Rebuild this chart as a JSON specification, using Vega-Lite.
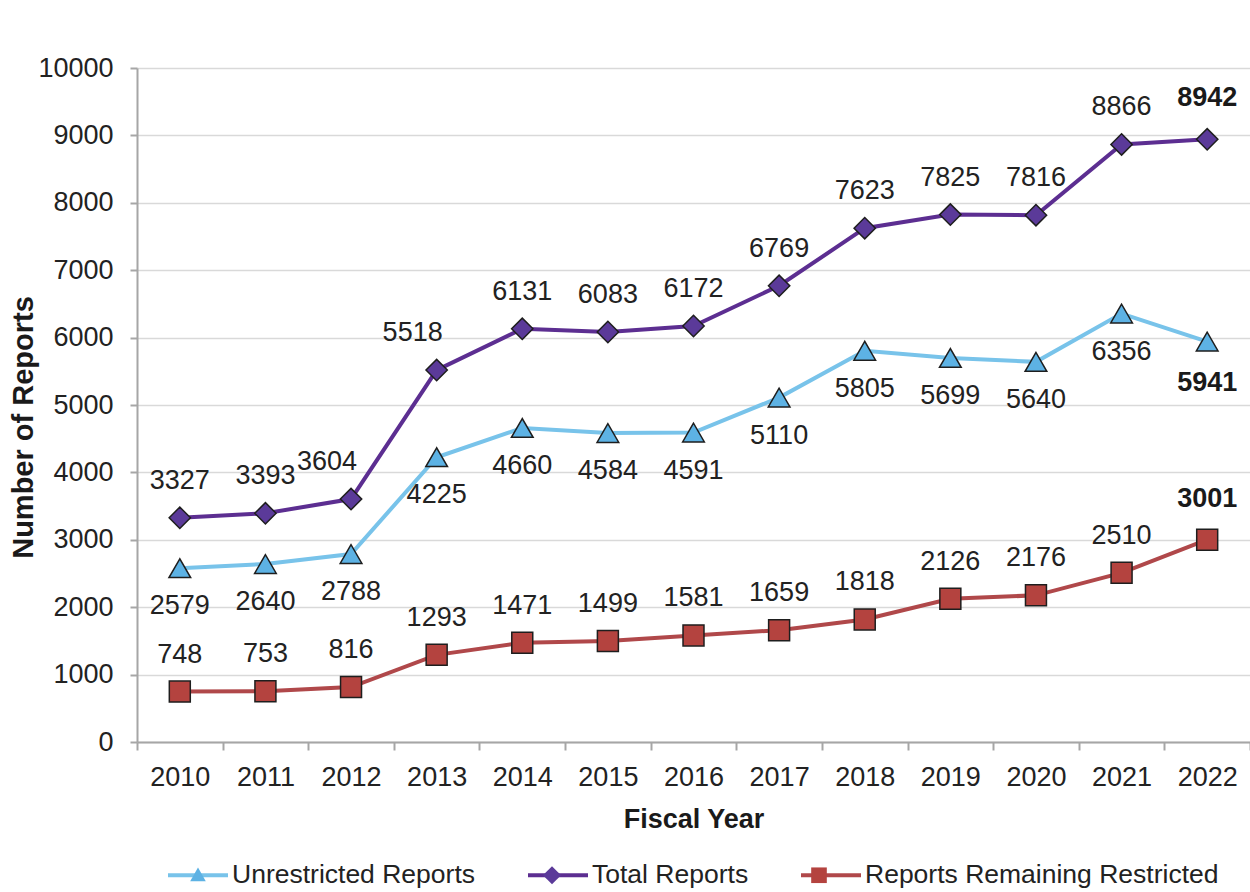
{
  "$schema": "https://vega.github.io/schema/vega-lite/v6.json",
  "width": 1113,
  "height": 674,
  "autosize": {"type": "none"},
  "padding": {"left": 137, "top": 68, "right": 0, "bottom": 150},
  "background": "white",
  "config": {
    "font": "Liberation Sans",
    "view": {"stroke": null},
    "axis": {"labelFont": "Liberation Sans", "titleFont": "Liberation Sans", "labelFontSize": 27, "titleFontSize": 27, "labelColor": "#222222", "titleColor": "#1a1a1a", "titleFontWeight": "bold", "domainColor": "#a6a6a6", "domainWidth": 2, "tickColor": "#a6a6a6", "tickWidth": 2}
  },
  "data": {"values": [
    {"year": "2010", "series": "Unrestricted Reports", "value": 2579},
    {"year": "2011", "series": "Unrestricted Reports", "value": 2640},
    {"year": "2012", "series": "Unrestricted Reports", "value": 2788},
    {"year": "2013", "series": "Unrestricted Reports", "value": 4225},
    {"year": "2014", "series": "Unrestricted Reports", "value": 4660},
    {"year": "2015", "series": "Unrestricted Reports", "value": 4584},
    {"year": "2016", "series": "Unrestricted Reports", "value": 4591},
    {"year": "2017", "series": "Unrestricted Reports", "value": 5110},
    {"year": "2018", "series": "Unrestricted Reports", "value": 5805},
    {"year": "2019", "series": "Unrestricted Reports", "value": 5699},
    {"year": "2020", "series": "Unrestricted Reports", "value": 5640},
    {"year": "2021", "series": "Unrestricted Reports", "value": 6356},
    {"year": "2022", "series": "Unrestricted Reports", "value": 5941},
    {"year": "2010", "series": "Total Reports", "value": 3327},
    {"year": "2011", "series": "Total Reports", "value": 3393},
    {"year": "2012", "series": "Total Reports", "value": 3604},
    {"year": "2013", "series": "Total Reports", "value": 5518},
    {"year": "2014", "series": "Total Reports", "value": 6131},
    {"year": "2015", "series": "Total Reports", "value": 6083},
    {"year": "2016", "series": "Total Reports", "value": 6172},
    {"year": "2017", "series": "Total Reports", "value": 6769},
    {"year": "2018", "series": "Total Reports", "value": 7623},
    {"year": "2019", "series": "Total Reports", "value": 7825},
    {"year": "2020", "series": "Total Reports", "value": 7816},
    {"year": "2021", "series": "Total Reports", "value": 8866},
    {"year": "2022", "series": "Total Reports", "value": 8942},
    {"year": "2010", "series": "Reports Remaining Restricted", "value": 748},
    {"year": "2011", "series": "Reports Remaining Restricted", "value": 753},
    {"year": "2012", "series": "Reports Remaining Restricted", "value": 816},
    {"year": "2013", "series": "Reports Remaining Restricted", "value": 1293},
    {"year": "2014", "series": "Reports Remaining Restricted", "value": 1471},
    {"year": "2015", "series": "Reports Remaining Restricted", "value": 1499},
    {"year": "2016", "series": "Reports Remaining Restricted", "value": 1581},
    {"year": "2017", "series": "Reports Remaining Restricted", "value": 1659},
    {"year": "2018", "series": "Reports Remaining Restricted", "value": 1818},
    {"year": "2019", "series": "Reports Remaining Restricted", "value": 2126},
    {"year": "2020", "series": "Reports Remaining Restricted", "value": 2176},
    {"year": "2021", "series": "Reports Remaining Restricted", "value": 2510},
    {"year": "2022", "series": "Reports Remaining Restricted", "value": 3001}
  ]},
  "encoding": {
    "x": {"field": "year", "type": "nominal", "sort": null,
      "scale": {"type": "band", "paddingInner": 0, "paddingOuter": 0},
      "axis": {"title": "Fiscal Year", "labelAngle": 0, "tickBand": "extent", "tickSize": 8, "labelPadding": 14, "titlePadding": 16, "grid": false}},
    "y": {"field": "value", "type": "quantitative",
      "scale": {"domain": [0, 10000], "nice": false},
      "axis": {"title": "Number of Reports", "format": "d", "values": [0, 1000, 2000, 3000, 4000, 5000, 6000, 7000, 8000, 9000, 10000], "tickSize": 7, "labelPadding": 17, "titlePadding": -1, "titleFontSize": 29, "titleY": 359, "grid": true, "gridColor": "#d9d9d9", "gridWidth": 1.5}}
  },
  "resolve": {"scale": {"shape": "independent", "fill": "independent"}, "legend": {"color": "independent", "shape": "independent", "fill": "independent"}},
  "layer": [
    {
      "mark": {"type": "line", "strokeWidth": 4},
      "encoding": {
        "color": {"field": "series", "type": "nominal",
          "sort": ["Unrestricted Reports", "Total Reports", "Reports Remaining Restricted"],
          "scale": {"range": ["#78c3ea", "#5c2e91", "#b0484a"]},
          "legend": {"orient": "none", "legendX": 29, "legendY": 775, "direction": "horizontal", "title": null, "labelFontSize": 26.5, "labelColor": "#222222", "labelFont": "Liberation Sans", "labelLimit": 0, "symbolType": "stroke", "symbolSize": 3600, "symbolStrokeWidth": 4, "symbolOpacity": 1, "columnPadding": 44, "labelOffset": 2}}
      }
    },
    {
      "mark": {"type": "point", "filled": true, "opacity": 1, "stroke": "#1e1e1e", "strokeWidth": 1.5},
      "encoding": {
        "shape": {"field": "series", "type": "nominal", "legend": null,
          "scale": {"domain": ["Unrestricted Reports", "Total Reports", "Reports Remaining Restricted"], "range": ["triangle-up", "diamond", "square"]}},
        "fill": {"field": "series", "type": "nominal", "legend": null,
          "scale": {"domain": ["Unrestricted Reports", "Total Reports", "Reports Remaining Restricted"], "range": ["#5db2e4", "#5b3a99", "#b4433f"]}},
        "size": {"field": "series", "type": "ordinal", "legend": null,
          "scale": {"domain": ["Unrestricted Reports", "Total Reports", "Reports Remaining Restricted"], "range": [470, 440, 500]}}
      }
    },
    {
      "transform": [{"filter": "false"}],
      "mark": {"type": "point", "filled": true, "opacity": 1, "stroke": "#1e1e1e", "strokeWidth": 1.5},
      "encoding": {
        "shape": {"field": "series", "type": "nominal",
          "scale": {"domain": ["Unrestricted Reports", "Total Reports", "Reports Remaining Restricted"], "range": ["M0,-0.25L0.25,0.19H-0.25Z", "M0,-0.29L0.29,0L0,0.29L-0.29,0Z", "M-0.25,-0.25H0.25V0.25H-0.25Z"]},
          "legend": {"orient": "none", "legendX": 29, "legendY": 775, "direction": "horizontal", "title": null, "labelFontSize": 26.5, "labelColor": "#222222", "labelOpacity": 0, "labelFont": "Liberation Sans", "labelLimit": 0, "symbolSize": 3906, "symbolStrokeColor": "#1e1e1e", "symbolStrokeWidth": 1.5, "symbolOpacity": 1, "columnPadding": 44, "labelOffset": 2}},
        "fill": {"field": "series", "type": "nominal",
          "scale": {"domain": ["Unrestricted Reports", "Total Reports", "Reports Remaining Restricted"], "range": ["#5db2e4", "#5b3a99", "#b4433f"]},
          "legend": {"orient": "none", "legendX": 29, "legendY": 775, "direction": "horizontal", "title": null, "labelFontSize": 26.5, "labelColor": "#222222", "labelOpacity": 0, "labelFont": "Liberation Sans", "labelLimit": 0, "symbolSize": 3906, "symbolStrokeColor": "#1e1e1e", "symbolStrokeWidth": 1.5, "symbolOpacity": 1, "columnPadding": 44, "labelOffset": 2}}
      }
    },
    {
      "transform": [{"filter": "datum.series != 'Unrestricted Reports' && datum.year != '2022' && !(datum.series == 'Total Reports' && (datum.year == '2012' || datum.year == '2013'))"}],
      "mark": {"type": "text", "fontSize": 27, "color": "#222222", "dy": -37},
      "encoding": {"text": {"field": "value", "type": "quantitative", "format": "d"}}
    },
    {
      "transform": [{"filter": "datum.series == 'Total Reports' && (datum.year == '2012' || datum.year == '2013')"}],
      "mark": {"type": "text", "fontSize": 27, "color": "#222222", "dy": -37, "dx": -24},
      "encoding": {"text": {"field": "value", "type": "quantitative", "format": "d"}}
    },
    {
      "transform": [{"filter": "datum.series == 'Unrestricted Reports' && datum.year != '2022'"}],
      "mark": {"type": "text", "fontSize": 27, "color": "#222222", "dy": 38},
      "encoding": {"text": {"field": "value", "type": "quantitative", "format": "d"}}
    },
    {
      "transform": [{"filter": "datum.series != 'Unrestricted Reports' && datum.year == '2022'"}],
      "mark": {"type": "text", "fontSize": 27, "fontWeight": "bold", "color": "#1a1a1a", "dy": -41},
      "encoding": {"text": {"field": "value", "type": "quantitative", "format": "d"}}
    },
    {
      "transform": [{"filter": "datum.series == 'Unrestricted Reports' && datum.year == '2022'"}],
      "mark": {"type": "text", "fontSize": 27, "fontWeight": "bold", "color": "#1a1a1a", "dy": 41},
      "encoding": {"text": {"field": "value", "type": "quantitative", "format": "d"}}
    }
  ]
}
